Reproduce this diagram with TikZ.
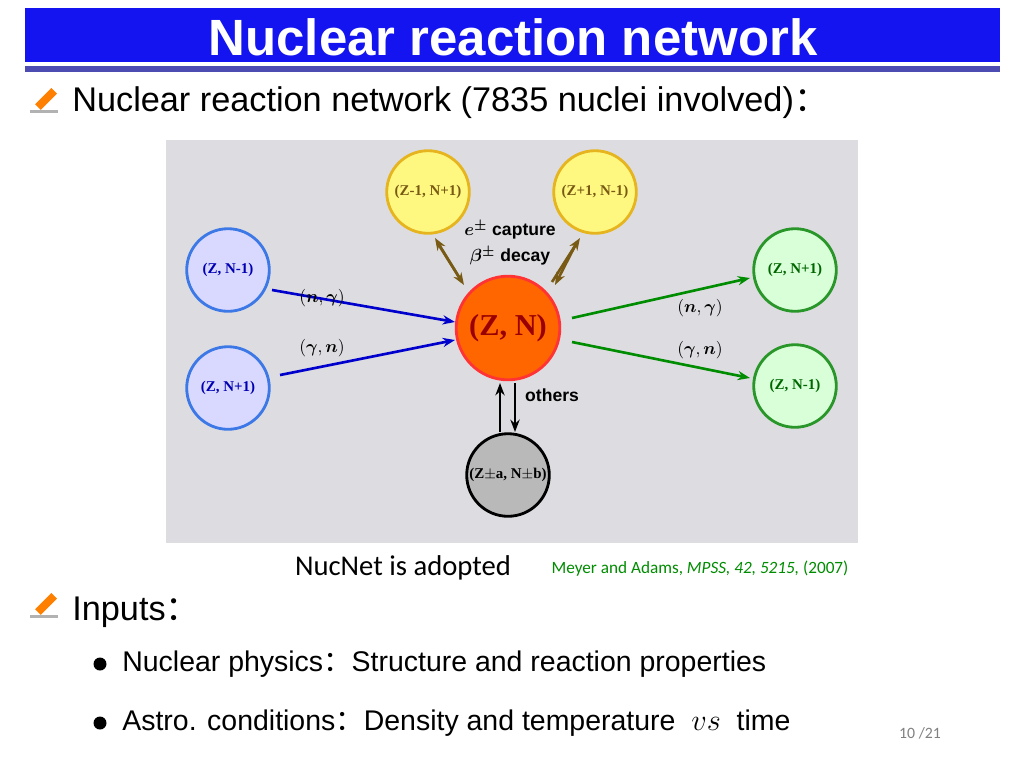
\documentclass[tikz,border=0pt]{standalone}
\usepackage{amsmath,amssymb,bm}
\usepackage{fontspec}
\setmainfont{Liberation Sans}
\newfontfamily\serifbf{Liberation Serif}
\newfontfamily\calib{Carlito}
\newfontfamily\cjk{Noto Sans CJK SC}
\usetikzlibrary{arrows.meta}
\definecolor{titleblue}{RGB}{20,20,240}
\definecolor{ringblue}{RGB}{60,120,230}
\definecolor{ringgreen}{RGB}{40,150,40}
\definecolor{ringyellow}{RGB}{230,180,30}
\definecolor{arrowbrown}{RGB}{120,90,20}
\definecolor{refgreen}{RGB}{0,140,0}
\tikzset{
  nuc/.style={circle, line width=1.6pt, minimum size=47pt, inner sep=0pt, font=\serifbf\bfseries\fontsize{8.5}{10}\selectfont},
  bluenuc/.style={nuc, draw=ringblue, fill=blue!15, text=blue!70!black},
  greennuc/.style={nuc, draw=ringgreen, fill=green!15, text=green!40!black},
  yellownuc/.style={nuc, draw=ringyellow, fill=yellow!50, text=arrowbrown},
  react/.style={-{Stealth[length=7pt]}, line width=1.5pt},
  lab/.style={font=\bfseries\fontsize{10}{12}\selectfont}
}
\begin{document}
\begin{tikzpicture}[x=0.02cm, y=-0.02cm]
\useasboundingbox (0,0) rectangle (1024,768);
% title
\fill[titleblue] (25,8) rectangle (1000,62);
\fill[blue!40!gray] (25,66) rectangle (1000,72);
\node[text=white, font=\bfseries\fontsize{29}{32}\selectfont] (title) at (513,37) {Nuclear reaction network};
% pencils
\foreach \py in {100,605} {
  \fill[orange, rotate around={45:(45,\py)}] (35,\py-4) rectangle (58,\py+4);
  \fill[gray!60] (30,\py+10) rectangle (58,\py+13);
}
\node[anchor=west, inner sep=0pt, font=\fontsize{19.5}{22}\selectfont] (head) at (72,103) {Nuclear reaction network (7835 nuclei involved){\cjk ：}};
% panel
\fill[blue!6!gray!25] (166,140) rectangle (858,543);
\node[yellownuc] (zm1) at (428,192) {(Z-1, N+1)};
\node[yellownuc] (zp1) at (595,192) {(Z+1, N-1)};
\node[bluenuc] (inA) at (228,270) {(Z, N-1)};
\node[bluenuc] (inB) at (228,388) {(Z, N+1)};
\node[greennuc] (outA) at (795,270) {(Z, N+1)};
\node[greennuc] (outB) at (795,386) {(Z, N-1)};
\node[nuc, draw=red!80, fill=orange!80!red, minimum size=59pt, text=red!60!black, font=\serifbf\bfseries\LARGE] (zn) at (508,328) {(Z, N)};
\node[nuc, draw=black, fill=gray!55, text=black] (bot) at (508,475) {(Z$\pm$a, N$\pm$b)};
% arrows
\draw[react, blue!80!black] (272,290) -- (455,322);
\draw[react, blue!80!black] (280,375) -- (455,340);
\draw[react, refgreen] (572,318) -- (750,278);
\draw[react, refgreen] (572,342) -- (750,378);
\draw[react, arrowbrown] (462,282) -- (435,238);
\draw[react, arrowbrown] (437,242) -- (464,285);
\draw[react, arrowbrown] (552,282) -- (580,238);
\draw[react, arrowbrown] (577,242) -- (555,285);
\draw[react, black] (500,432) -- (500,383);
\draw[react, black] (515,383) -- (515,432);
% labels
\node[lab] (cap) at (510,230) {$\bm{e^\pm}$ capture};
\node[lab] (dec) at (510,256) {$\bm{\beta^\pm}$ decay};
\node[lab] (ng1) at (322,298) {$(\bm{n},\bm{\gamma})$};
\node[lab] (gn1) at (322,348) {$(\bm{\gamma},\bm{n})$};
\node[lab] (ng2) at (700,308) {$(\bm{n},\bm{\gamma})$};
\node[lab] (gn2) at (700,350) {$(\bm{\gamma},\bm{n})$};
\node[lab, anchor=west] (oth) at (519,395) {others};
% bottom text
\node[font=\calib\fontsize{16.3}{18}\selectfont] (nucnet) at (403,568) {NucNet is adopted};
\node[font=\calib\fontsize{9.8}{11}\selectfont, text=refgreen] (ref) at (700,569) {Meyer and Adams, \textit{MPSS, 42, 5215,} (2007)};
\node[anchor=west, inner sep=0pt, font=\fontsize{19.5}{22}\selectfont] (inputs) at (72,612) {Inputs{\cjk ：}};
\fill (100,664) circle (6.5);
\fill (100,723) circle (6.5);
\node[anchor=west, inner sep=0pt, font=\fontsize{16.2}{19}\selectfont] (b1) at (122,664) {Nuclear physics{\cjk ：}Structure and reaction properties};
\node[anchor=west, inner sep=0pt, font=\fontsize{16.2}{19}\selectfont] (b2) at (122,723) {Astro. conditions{\cjk ：}Density and temperature \ $vs$ \ time};
\node[text=gray, font=\calib\small] (page) at (920,733) {10 /21};
\end{tikzpicture}
\end{document}
